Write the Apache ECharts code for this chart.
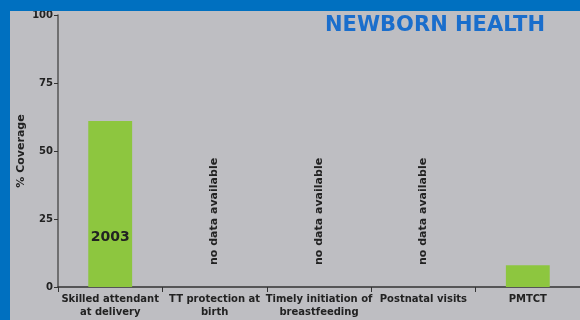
<!DOCTYPE html>
<html>
<head>
<meta charset="utf-8">
<script src="https://cdn.jsdelivr.net/npm/echarts@6/dist/echarts.min.js"></script>
<style>
  html, body { margin: 0; padding: 0; background: #0070c0; }
  #wrap { position: absolute; left: 10px; top: 11px; width: 570px; height: 309px; background: #bebec2; }
  #chart { width: 570px; height: 309px; }
</style>
</head>
<body>
<div id="wrap"><div id="chart"></div></div>
<script>
var categories = ['Skilled attendant\nat delivery', 'TT protection at\nbirth', 'Timely initiation of\nbreastfeeding', 'Postnatal visits', 'PMTCT'];
var coverage = [61, null, null, null, 8];
var barYears = ['2003', '', '', '', ''];
var noData = [null, 0, 0, 0, null];
var yTicks = [0, 25, 50, 75, 100];

var chart = echarts.init(document.getElementById('chart'));
var font = 'DejaVu Sans, Verdana, sans-serif';

var barData = [];
for (var i = 0; i < coverage.length; i++) {
    var item = { value: coverage[i] };
    if (barYears[i]) {
        item.label = { show: true, formatter: barYears[i] };
    }
    barData.push(item);
}

var option = {
    backgroundColor: 'transparent',
    animation: false,
    title: {
        text: 'NEWBORN HEALTH',
        right: 30,
        top: -1,
        textStyle: { color: '#1a6ecc', fontFamily: font, fontWeight: 'bold', fontSize: 21 }
    },
    grid: { left: 48, right: 0, top: 4, bottom: 33, outerBoundsMode: 'none' },
    xAxis: {
        type: 'category',
        data: categories,
        axisLine: { lineStyle: { color: '#333', width: 1.5 } },
        axisTick: { show: true, length: 5, lineStyle: { color: '#333' } },
        axisLabel: { color: '#222', fontFamily: font, fontWeight: 'bold', fontSize: 10, lineHeight: 13, margin: 6, interval: 0 }
    },
    yAxis: {
        type: 'value',
        min: 0, max: yTicks[yTicks.length - 1], interval: 25,
        name: '% Coverage',
        nameLocation: 'middle',
        nameGap: 31,
        nameMoveOverlap: false,
        nameTextStyle: { color: '#222', fontFamily: font, fontWeight: 'bold', fontSize: 11 },
        splitLine: { show: false },
        axisLine: { show: true, lineStyle: { color: '#555', width: 1.5 } },
        axisTick: { show: true, length: 4, lineStyle: { color: '#333' } },
        axisLabel: { color: '#222', fontFamily: font, fontWeight: 'bold', fontSize: 10, margin: 5 }
    },
    series: [
        {
            type: 'bar',
            data: barData,
            barWidth: '42%',
            barGap: '-100%',
            itemStyle: { color: '#8dc63f' },
            label: {
                show: false,
                position: 'insideBottom',
                distance: 43,
                color: '#222',
                fontFamily: font,
                fontWeight: 'bold',
                fontSize: 14
            }
        },
        {
            type: 'bar',
            data: noData,
            barWidth: '42%',
            itemStyle: { color: 'transparent' },
            label: {
                show: true,
                formatter: 'no data available',
                position: 'top',
                rotate: 90,
                align: 'left',
                verticalAlign: 'middle',
                distance: 22,
                color: '#222',
                fontFamily: font,
                fontWeight: 'bold',
                fontSize: 11
            }
        }
    ]
};
chart.setOption(option);
</script>
</body>
</html>
